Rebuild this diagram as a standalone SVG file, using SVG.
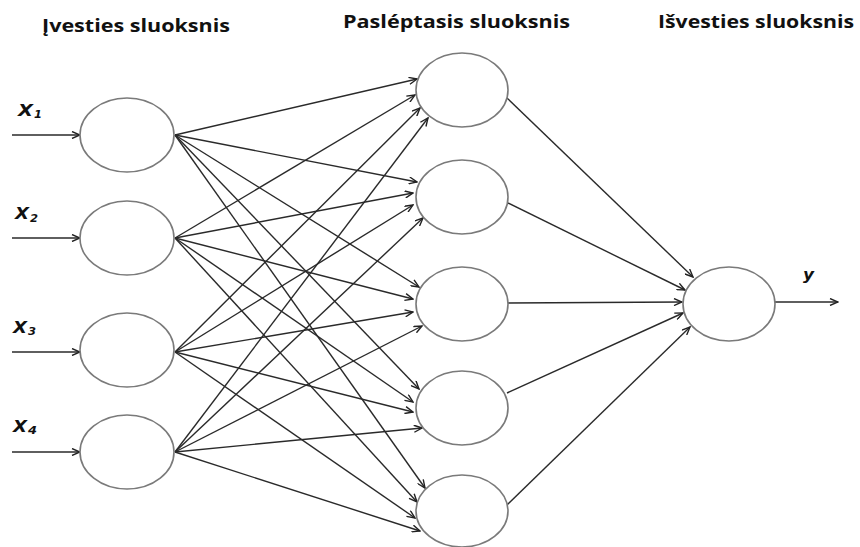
<svg xmlns="http://www.w3.org/2000/svg" width="860" height="547" viewBox="0 0 860 547">
<style>
.node{fill:#fff;stroke:#7a7a7a;stroke-width:1.6}
.edge{stroke:#2a2a2a;stroke-width:1.4;fill:none;marker-end:url(#arr)}
.title{font-family:"Open Sans","Liberation Sans",sans-serif;font-weight:bold;font-size:18px;fill:#111}
.var{font-family:"DejaVu Sans","Liberation Sans",sans-serif;font-weight:bold;font-style:italic;font-size:16px;fill:#111}
.sub{font-family:"DejaVu Sans","Liberation Sans",sans-serif;font-weight:bold;font-style:italic;font-size:11px;fill:#111}
</style>
<defs>
<marker id="arr" viewBox="0 0 10 8" refX="9" refY="4" markerWidth="10" markerHeight="8" markerUnits="userSpaceOnUse" orient="auto">
<path d="M1,0.5 L9,4 L1,7.5" fill="none" stroke="#222" stroke-width="1.4"/>
</marker>
</defs>
<rect width="860" height="547" fill="#fff"/>
<g id="titles">
<text class="title" x="42" y="32" textLength="188" lengthAdjust="spacingAndGlyphs">Įvesties sluoksnis</text>
<text class="title" x="343" y="28" textLength="227" lengthAdjust="spacingAndGlyphs">Pasléptasis sluoksnis</text>
<text class="title" x="658" y="28" textLength="196" lengthAdjust="spacingAndGlyphs">Išvesties sluoksnis</text>
</g>
<g id="labels">
<text class="var" x="18" y="116" textLength="15" lengthAdjust="spacingAndGlyphs">X</text><text class="sub" x="34" y="118" textLength="8" lengthAdjust="spacingAndGlyphs">1</text>
<text class="var" x="15" y="219" textLength="14" lengthAdjust="spacingAndGlyphs">X</text><text class="sub" x="30" y="222" textLength="8" lengthAdjust="spacingAndGlyphs">2</text>
<text class="var" x="13" y="333" textLength="14" lengthAdjust="spacingAndGlyphs">X</text><text class="sub" x="28" y="335" textLength="8" lengthAdjust="spacingAndGlyphs">3</text>
<text class="var" x="13" y="432" textLength="14" lengthAdjust="spacingAndGlyphs">X</text><text class="sub" x="28" y="434" textLength="9" lengthAdjust="spacingAndGlyphs">4</text>
<text class="var" x="803" y="280" textLength="11" lengthAdjust="spacingAndGlyphs">y</text>
</g>
<g id="connectors">
<line class="edge" x1="12" y1="135" x2="80" y2="135"/>
<line class="edge" x1="12" y1="238" x2="80" y2="238"/>
<line class="edge" x1="12" y1="352" x2="80" y2="352"/>
<line class="edge" x1="12" y1="452" x2="80" y2="452"/>
<line class="edge" x1="175" y1="135" x2="417" y2="79"/>
<line class="edge" x1="175" y1="135" x2="417" y2="182"/>
<line class="edge" x1="175" y1="135" x2="419" y2="287"/>
<line class="edge" x1="175" y1="135" x2="419" y2="389"/>
<line class="edge" x1="175" y1="135" x2="425" y2="488"/>
<line class="edge" x1="175" y1="238" x2="415" y2="95"/>
<line class="edge" x1="175" y1="238" x2="413" y2="193"/>
<line class="edge" x1="175" y1="238" x2="413" y2="299"/>
<line class="edge" x1="175" y1="238" x2="413" y2="402"/>
<line class="edge" x1="175" y1="238" x2="417" y2="502"/>
<line class="edge" x1="175" y1="352" x2="420" y2="108"/>
<line class="edge" x1="175" y1="352" x2="413" y2="205"/>
<line class="edge" x1="175" y1="352" x2="413" y2="312"/>
<line class="edge" x1="175" y1="352" x2="413" y2="412"/>
<line class="edge" x1="175" y1="352" x2="415" y2="518"/>
<line class="edge" x1="175" y1="452" x2="428" y2="118"/>
<line class="edge" x1="175" y1="452" x2="423" y2="218"/>
<line class="edge" x1="175" y1="452" x2="422" y2="326"/>
<line class="edge" x1="175" y1="452" x2="422" y2="428"/>
<line class="edge" x1="175" y1="452" x2="420" y2="531"/>
<line class="edge" x1="507" y1="98" x2="693" y2="277"/>
<line class="edge" x1="508" y1="203" x2="685" y2="290"/>
<line class="edge" x1="508" y1="303" x2="682" y2="302"/>
<line class="edge" x1="507" y1="393" x2="683" y2="313"/>
<line class="edge" x1="507" y1="505" x2="690" y2="327"/>
<line class="edge" x1="775" y1="302" x2="838" y2="302"/>
</g>
<g id="in1"><ellipse class="node" cx="127" cy="135" rx="47" ry="37"/></g>
<g id="in2"><ellipse class="node" cx="127" cy="238" rx="47" ry="37"/></g>
<g id="in3"><ellipse class="node" cx="127" cy="350" rx="47" ry="37"/></g>
<g id="in4"><ellipse class="node" cx="127" cy="452" rx="47" ry="37"/></g>
<g id="h1"><ellipse class="node" cx="462" cy="90" rx="46" ry="37"/></g>
<g id="h2"><ellipse class="node" cx="462" cy="197" rx="46" ry="37"/></g>
<g id="h3"><ellipse class="node" cx="462" cy="304" rx="46" ry="37"/></g>
<g id="h4"><ellipse class="node" cx="462" cy="408" rx="46" ry="37"/></g>
<g id="h5"><ellipse class="node" cx="462" cy="511" rx="46" ry="36"/></g>
<g id="out"><ellipse class="node" cx="729" cy="304" rx="46" ry="37"/></g>
</svg>
